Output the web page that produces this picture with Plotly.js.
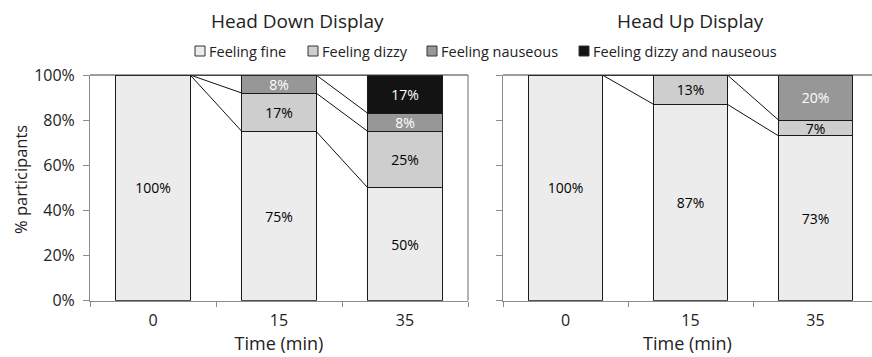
<!DOCTYPE html>
<html><head><meta charset="utf-8">
<script src="https://cdn.plot.ly/plotly-3.0.1.min.js"></script>
<style>html,body{margin:0;padding:0;background:#fff}#chart{width:872px;height:357px}</style>
</head><body><div id="chart"></div>
<script>
// ---- data ----
const times = ['0', '15', '35'];
const seriesNames = ['Feeling fine', 'Feeling dizzy', 'Feeling nauseous', 'Feeling dizzy and nauseous'];
const headDownFine = [100, 75, 50];
const headDownDizzy = [0, 17, 25];
const headDownNauseous = [0, 8, 8];
const headDownBoth = [0, 0, 17];
const headUpFine = [100, 87, 73];
const headUpDizzy = [0, 13, 7];
const headUpNauseous = [0, 0, 20];
const headUpBoth = [0, 0, 0];
const panelTitles = ['Head Down Display', 'Head Up Display'];
const yTickVals = [0, 20, 40, 60, 80, 100];
const yTickText = ['0%', '20%', '40%', '60%', '80%', '100%'];
const xTitle = 'Time (min)';
const yTitle = '% participants';

// ---- styles ----
const FONT = 'Open Sans, Noto Sans, sans-serif';
const fills = ['#ececec', '#cdcecd', '#979797', '#131313'];
const textColors = ['#000000', '#000000', '#ffffff', '#ffffff'];
const BARW = 0.59;
const W = 872, H = 357;
const axisGrey = '#8c8c8c';

const panels = [
  {series: [headDownFine, headDownDizzy, headDownNauseous, headDownBoth], xa: 'x', ya: 'y'},
  {series: [headUpFine, headUpDizzy, headUpNauseous, headUpBoth], xa: 'x2', ya: 'y2'}
];

const xIdx = times.map((t, i) => i);
const traces = [];
panels.forEach((p) => {
  p.series.forEach((vals, s) => {
    traces.push({
      type: 'bar', x: xIdx, y: vals, xaxis: p.xa, yaxis: p.ya,
      width: BARW, name: seriesNames[s], showlegend: false,
      marker: {color: fills[s], line: {color: '#1a1a1a', width: 1}},
      text: vals.map(v => v > 0 ? v + '%' : ''),
      textposition: 'inside', insidetextanchor: 'middle', textangle: 0,
      constraintext: 'none', cliponaxis: false,
      textfont: {family: FONT, size: 14, color: textColors[s]},
      hoverinfo: 'skip'
    });
  });
  // series lines connecting the stack tops between neighbouring bars
  const lx = [], ly = [];
  for (let i = 0; i < times.length - 1; i++) {
    let c0 = 0, c1 = 0;
    p.series.forEach((vals) => {
      c0 += vals[i]; c1 += vals[i + 1];
      lx.push(i + BARW / 2, i + 1 - BARW / 2, null);
      ly.push(c0, c1, null);
    });
  }
  traces.push({
    type: 'scatter', mode: 'lines', x: lx, y: ly, xaxis: p.xa, yaxis: p.ya,
    line: {color: '#111111', width: 1}, showlegend: false, hoverinfo: 'skip', cliponaxis: false
  });
});

const yDom = [(H - 300.7) / H, (H - 75) / H];
const boundaryTicks = [-0.5, 0.5, 1.5, 2.5];
function xAxis(dom, range, anchor) {
  return {
    domain: dom, range: range, anchor: anchor,
    tickmode: 'array', tickvals: xIdx, ticktext: times, ticks: '',
    tickfont: {family: FONT, size: 16, color: '#222'},
    ticklabelstandoff: 5,
    showline: true, linecolor: axisGrey, linewidth: 1,
    showgrid: false, zeroline: false, fixedrange: true,
    minor: {tickmode: 'array', tickvals: boundaryTicks, ticks: 'outside', ticklen: 5,
            tickcolor: axisGrey, tickwidth: 1, showgrid: false},
    title: {text: xTitle, font: {family: FONT, size: 18, color: '#222'}, standoff: 6}
  };
}
function yAxis(anchor, labels) {
  return {
    domain: yDom, range: [0, 100], anchor: anchor,
    tickmode: 'array', tickvals: yTickVals, ticktext: yTickText,
    showticklabels: labels,
    ticks: 'outside', ticklen: 6, tickcolor: axisGrey, tickwidth: 1,
    tickfont: {family: FONT, size: 16, color: '#222'},
    ticklabelstandoff: 5,
    showline: true, linecolor: axisGrey, linewidth: 1,
    showgrid: false, zeroline: false, fixedrange: true,
    title: {text: ''}
  };
}

const shapes = [];
const annotations = [];
// plot-area frames (top, and right of the left panel)
['x', 'x2'].forEach((xa, k) => {
  const ya = k === 0 ? 'y' : 'y2';
  shapes.push({type: 'line', xref: xa + ' domain', yref: ya + ' domain', x0: 0, x1: 1, y0: 1, y1: 1,
    line: {color: '#3a3a3a', width: 1}});
  if (k === 0) shapes.push({type: 'line', xref: xa + ' domain', yref: ya + ' domain', x0: 1, x1: 1, y0: 0, y1: 1,
    line: {color: '#6a6a6a', width: 1}});
});
// y-axis title
annotations.push({text: yTitle, xref: 'paper', yref: 'paper', x: 20 / W, y: (H - 180) / H,
  xanchor: 'center', yanchor: 'middle', textangle: -90, showarrow: false,
  font: {family: FONT, size: 16.5, color: '#222'}});
// panel titles
const titleX = [297, 690];
panelTitles.forEach((t, i) => {
  annotations.push({text: t, xref: 'paper', yref: 'paper', x: titleX[i] / W, y: (H - 21) / H,
    xanchor: 'center', yanchor: 'middle', showarrow: false,
    font: {family: FONT, size: 19, color: '#222'}});
});
// legend
const legX = [195, 308, 427, 579];
const legY = 51, legS = 10;
seriesNames.forEach((n, i) => {
  shapes.push({type: 'rect', xref: 'paper', yref: 'paper',
    x0: legX[i] / W, x1: (legX[i] + legS) / W, y0: (H - legY - legS / 2) / H, y1: (H - legY + legS / 2) / H,
    fillcolor: fills[i], line: {color: '#333', width: 1}});
  annotations.push({text: n, xref: 'paper', yref: 'paper', x: (legX[i] + legS + 2) / W, y: (H - legY) / H,
    xanchor: 'left', yanchor: 'middle', showarrow: false,
    font: {family: FONT, size: 14.5, color: '#222'}});
});

const layout = {
  width: W, height: H, margin: {l: 0, r: 0, t: 0, b: 0},
  paper_bgcolor: '#ffffff', plot_bgcolor: '#ffffff',
  barmode: 'stack', showlegend: false,
  font: {family: FONT},
  xaxis: xAxis([90 / W, 468 / W], [-0.5, 2.5], 'y'),
  xaxis2: xAxis([503 / W, 1], [-0.5, 2.452], 'y2'),
  yaxis: yAxis('x', true),
  yaxis2: yAxis('x2', false),
  shapes: shapes, annotations: annotations
};
Plotly.newPlot('chart', traces, layout, {staticPlot: true, displayModeBar: false});
</script></body></html>
